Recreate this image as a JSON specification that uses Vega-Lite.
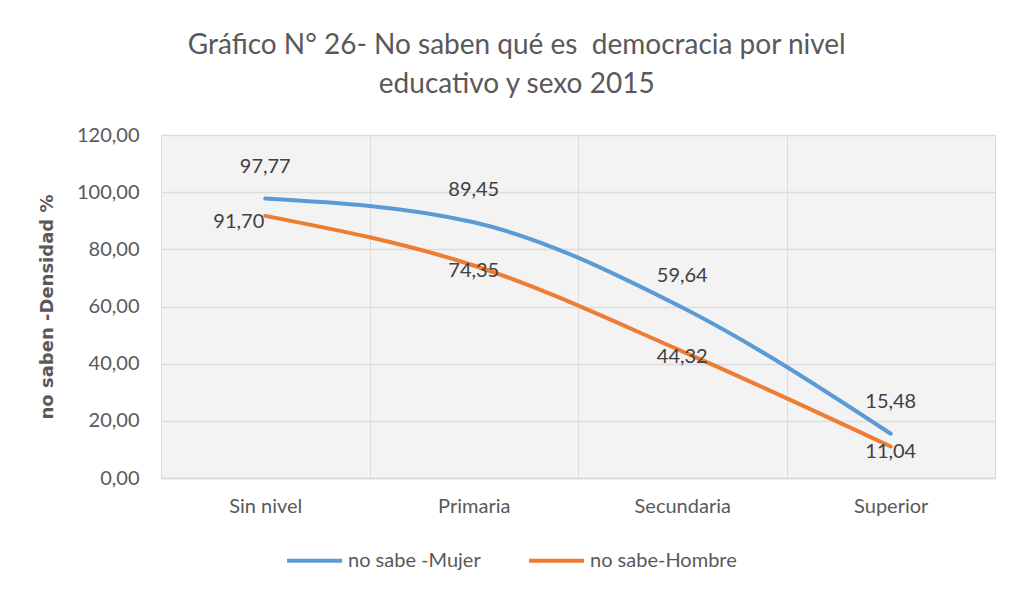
{
  "$schema": "https://vega.github.io/schema/vega-lite/v6.json",
  "autosize": {"type": "none"},
  "width": 834,
  "height": 343,
  "padding": {"left": 161, "top": 135, "right": 26, "bottom": 119},
  "background": "white",
  "config": {
    "locale": {"number": {"decimal": ",", "thousands": ".", "grouping": [3], "currency": ["", ""]}},
    "font": "Lato",
    "view": {"fill": "#f3f3f3", "stroke": "#d9d9d9", "strokeWidth": 1}
  },
  "title": {
    "text": ["Gráfico N° 26- No saben qué es\u00a0 democracia por nivel", "educativo y sexo 2015"],
    "anchor": "middle",
    "frame": "bounds",
    "fontSize": 28,
    "fontWeight": "normal",
    "color": "#595959",
    "font": "Lato",
    "lineHeight": 39,
    "offset": 26
  },
  "data": {
    "values": [
      {"nivel": "Sin nivel", "serie": "no sabe -Mujer", "valor": 97.77},
      {"nivel": "Primaria", "serie": "no sabe -Mujer", "valor": 89.45},
      {"nivel": "Secundaria", "serie": "no sabe -Mujer", "valor": 59.64},
      {"nivel": "Superior", "serie": "no sabe -Mujer", "valor": 15.48},
      {"nivel": "Sin nivel", "serie": "no sabe-Hombre", "valor": 91.70},
      {"nivel": "Primaria", "serie": "no sabe-Hombre", "valor": 74.35},
      {"nivel": "Secundaria", "serie": "no sabe-Hombre", "valor": 44.32},
      {"nivel": "Superior", "serie": "no sabe-Hombre", "valor": 11.04}
    ]
  },
  "encoding": {
    "x": {
      "field": "nivel",
      "type": "nominal",
      "sort": ["Sin nivel", "Primaria", "Secundaria", "Superior"],
      "scale": {"paddingInner": 0, "paddingOuter": 0},
      "axis": {
        "title": null,
        "labelAngle": 0,
        "labelFontSize": 20,
        "labelColor": "#595959",
        "labelPadding": 18,
        "ticks": false,
        "domain": true,
        "domainColor": "#d9d9d9",
        "domainWidth": 1.5,
        "grid": true,
        "gridColor": "#dcdcdc",
        "tickBand": "extent"
      }
    },
    "y": {
      "field": "valor",
      "type": "quantitative",
      "scale": {"domain": [0, 120], "nice": false},
      "axis": {
        "title": "no saben -Densidad %",
        "titleFont": "DejaVu Sans",
        "titleFontSize": 18,
        "titleFontWeight": "bold",
        "titleColor": "#595959",
        "titlePadding": 20,
        "values": [0, 20, 40, 60, 80, 100, 120],
        "format": ".2f",
        "labelFontSize": 20,
        "labelColor": "#595959",
        "labelPadding": 22,
        "ticks": false,
        "domain": false,
        "gridColor": "#dcdcdc",
        "gridWidth": 1.5
      }
    }
  },
  "layer": [
    {
      "mark": {"type": "line", "interpolate": "monotone", "strokeWidth": 4, "strokeCap": "round"},
      "encoding": {
        "x": {"field": "nivel", "type": "nominal", "bandPosition": 0.5, "sort": ["Sin nivel", "Primaria", "Secundaria", "Superior"]},
        "color": {
          "field": "serie",
          "type": "nominal",
          "scale": {"domain": ["no sabe -Mujer", "no sabe-Hombre"], "range": ["#5B9BD5", "#ED7D31"]},
          "legend": {
            "title": null,
            "orient": "none",
            "legendX": 124,
            "legendY": 396,
            "direction": "horizontal",
            "symbolType": "stroke",
            "symbolSize": 3025,
            "symbolStrokeWidth": 4,
            "labelFontSize": 20,
            "labelColor": "#595959",
            "labelOffset": 4,
            "columnPadding": 40
          }
        }
      }
    },
    {
      "transform": [{"filter": "datum.serie == 'no sabe -Mujer'"}],
      "mark": {"type": "text", "fontSize": 20, "color": "#404040", "dy": -32},
      "encoding": {
        "x": {"field": "nivel", "type": "nominal", "bandPosition": 0.5, "sort": ["Sin nivel", "Primaria", "Secundaria", "Superior"]},
        "text": {"field": "valor", "type": "quantitative", "format": ".2f"}
      }
    },
    {
      "transform": [{"filter": "datum.serie == 'no sabe-Hombre' && datum.nivel != 'Sin nivel'"}],
      "mark": {"type": "text", "fontSize": 20, "color": "#404040", "dy": 6},
      "encoding": {
        "x": {"field": "nivel", "type": "nominal", "bandPosition": 0.5, "sort": ["Sin nivel", "Primaria", "Secundaria", "Superior"]},
        "text": {"field": "valor", "type": "quantitative", "format": ".2f"}
      }
    },
    {
      "transform": [{"filter": "datum.serie == 'no sabe-Hombre' && datum.nivel == 'Sin nivel'"}],
      "mark": {"type": "text", "fontSize": 20, "color": "#404040", "align": "right", "dx": -1, "dy": 6},
      "encoding": {
        "x": {"field": "nivel", "type": "nominal", "bandPosition": 0.5, "sort": ["Sin nivel", "Primaria", "Secundaria", "Superior"]},
        "text": {"field": "valor", "type": "quantitative", "format": ".2f"}
      }
    }
  ]
}
